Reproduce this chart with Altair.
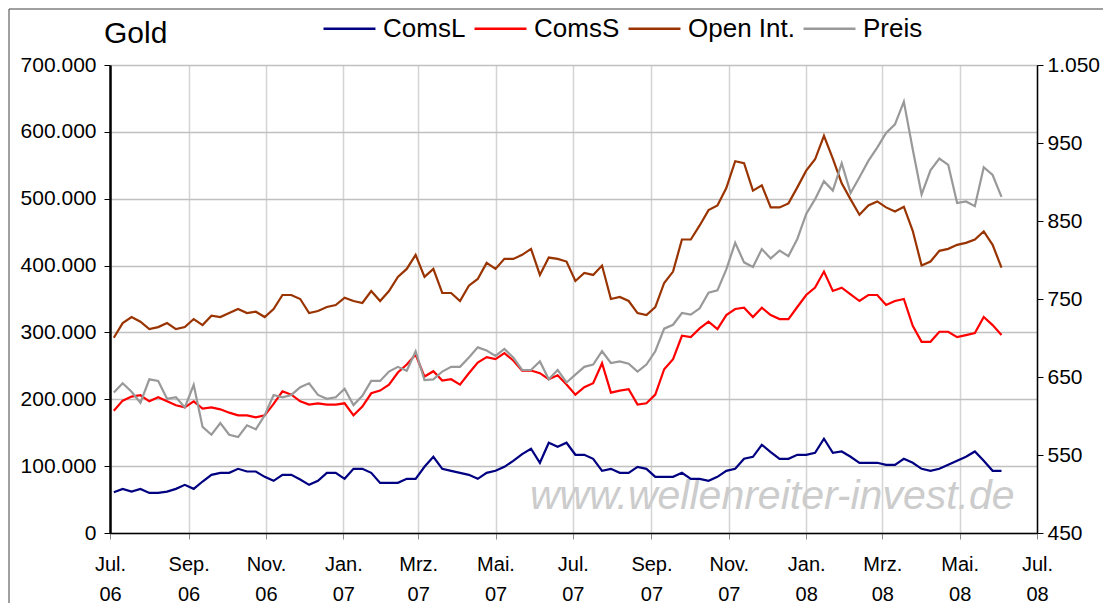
import altair as alt
import pandas as pd

# ---------------- data ----------------
start_date = "2006-07-04"
n_weeks = 101

coms_l = [61, 66, 62, 66, 60, 60, 62, 66, 72, 66, 77, 87, 90, 90, 96, 92, 92, 84, 78, 87,
          87, 80, 72, 78, 90, 90, 81, 96, 96, 90, 75, 75, 75, 81, 81, 99, 114, 96, 93, 90,
          87, 81, 90, 93, 99, 108, 118, 126, 105, 135, 129, 135, 117, 117, 111, 93, 96, 90, 90, 99,
          96, 84, 84, 84, 90, 81, 81, 78, 84, 93, 96, 111, 114, 132, 121, 111, 111, 117, 117, 120,
          141, 120, 122, 114, 105, 105, 105, 102, 102, 111, 105, 96, 93, 96, 102, 108, 114, 122, 108, 93,
          93]
coms_s = [183, 198, 204, 206, 197, 203, 197, 191, 188, 197, 186, 188, 185, 180, 176, 176, 173, 176, 193, 212,
          207, 197, 192, 194, 192, 192, 194, 176, 189, 209, 213, 222, 240, 252, 267, 234, 242, 228, 230, 222,
          239, 255, 263, 260, 269, 258, 243, 243, 239, 230, 236, 222, 207, 218, 224, 254, 210, 213, 215, 192,
          194, 207, 245, 260, 295, 293, 306, 316, 305, 326, 335, 337, 323, 337, 326, 320, 320, 338, 356, 367,
          391, 362, 367, 357, 347, 356, 356, 341, 347, 350, 310, 286, 286, 301, 301, 293, 296, 299, 323, 311,
          296]
open_int = [292, 314, 323, 316, 305, 308, 314, 305, 308, 320, 311, 325, 323, 329, 335, 329, 331, 323, 335, 356,
            356, 350, 329, 332, 338, 341, 352, 347, 344, 362, 347, 362, 383, 395, 416, 383, 395, 359, 359, 347,
            370, 380, 404, 395, 410, 410, 416, 425, 386, 412, 410, 406, 377, 389, 386, 400, 350, 353, 347, 329,
            326, 338, 374, 391, 439, 439, 460, 483, 490, 516, 556, 553, 512, 520, 487, 487, 493, 517, 542, 559,
            594, 560, 523, 499, 476, 490, 496, 487, 481, 488, 452, 400, 406, 422, 425, 431, 434, 439, 451, 431,
            397]
preis = [630, 642, 631, 617, 647, 645, 622, 624, 611, 640, 586, 576, 591, 576, 573, 588, 583, 601, 627, 624,
         627, 637, 642, 627, 622, 624, 635, 614, 626, 645, 645, 657, 663, 658, 683, 646, 647, 657, 663, 663,
         675, 688, 684, 677, 686, 675, 659, 659, 670, 647, 659, 643, 653, 663, 666, 683, 668, 670, 667, 657,
         666, 683, 712, 717, 732, 730, 738, 758, 761, 788, 822, 797, 791, 814, 802, 812, 805, 827, 859, 878,
         901, 889, 924, 886, 906, 927, 944, 963, 974, 1003, 942, 884, 915, 930, 922, 873, 875, 869, 919, 909,
         881]

series_names = ["ComsL", "ComsS", "Open Int.", "Preis"]
series_colors = ["#000080", "#ff0000", "#993300", "#999999"]
month_names = ["Jan.", "Feb.", "Mrz.", "Apr.", "Mai.", "Jun.", "Jul.", "Aug.", "Sep.", "Okt.", "Nov.", "Dez."]
left_ticks = [0, 100000, 200000, 300000, 400000, 500000, 600000, 700000]
right_ticks = [450, 550, 650, 750, 850, 950, 1050]
x_tick_months = [(2006, 7), (2006, 9), (2006, 11), (2007, 1), (2007, 3), (2007, 5), (2007, 7),
                 (2007, 9), (2007, 11), (2008, 1), (2008, 3), (2008, 5), (2008, 7)]
title_text = "Gold"
watermark = "www.wellenreiter-invest.de"

FONT = "Liberation Sans"

dates = pd.date_range(start_date, periods=n_weeks, freq="7D")
left_df = pd.concat([
    pd.DataFrame({"date": dates, "series": "ComsL", "value": [v * 1000 for v in coms_l]}),
    pd.DataFrame({"date": dates, "series": "ComsS", "value": [v * 1000 for v in coms_s]}),
    pd.DataFrame({"date": dates, "series": "Open Int.", "value": [v * 1000 for v in open_int]}),
])
right_df = pd.DataFrame({"date": dates, "series": "Preis", "value": preis})

x_values = [alt.DateTime(year=y, month=m, date=1) for (y, m) in x_tick_months]
month_arr = "[" + ",".join(f"'{m}'" for m in month_names) + "]"
x_label_expr = f"[{month_arr}[month(datum.value)], timeFormat(datum.value, '%y')]"

x_enc = alt.X(
    "date:T",
    title=None,
    scale=alt.Scale(domain=[x_values[0], x_values[-1]]),
    axis=alt.Axis(values=x_values, labelExpr=x_label_expr, grid=True, gridColor="#d4d4d4",
                  gridWidth=1.5, tickSize=6, tickColor="#888888", domainColor="black",
                  domainWidth=1.5, labelFont=FONT, labelFontSize=20, labelColor="black",
                  labelPadding=15, labelLineHeight=30, labelBaseline="top", labelAngle=0,
                  labelOverlap=False, labelFlush=False),
)

color_enc = alt.Color(
    "series:N",
    scale=alt.Scale(domain=series_names, range=series_colors),
    legend=alt.Legend(orient="none", legendX=212, legendY=-64, direction="horizontal", title=None,
                      symbolType="stroke", symbolSize=2700, symbolStrokeWidth=2.5,
                      labelFont=FONT, labelFontSize=26, labelColor="black", labelOffset=6,
                      columnPadding=3, padding=0),
)

left_lines = alt.Chart(left_df).mark_line(strokeWidth=2.2).encode(
    x=x_enc,
    y=alt.Y("value:Q", title=None,
            scale=alt.Scale(domain=[0, 700000], nice=False, zero=False),
            axis=alt.Axis(orient="left", values=left_ticks,
                          labelExpr="datum.value == 0 ? '0' : format(datum.value / 1000, 'd') + '.000'",
                          grid=True, gridColor="#c0c0c0", gridWidth=1.5, tickSize=6,
                          tickColor="black", domainColor="black", domainWidth=2.5,
                          labelFont=FONT, labelFontSize=21, labelColor="black", labelPadding=8)),
    color=color_enc,
    detail="series:N",
)

right_line = alt.Chart(right_df).mark_line(strokeWidth=2.2).encode(
    x=x_enc,
    y=alt.Y("value:Q", title=None,
            scale=alt.Scale(domain=[450, 1050], nice=False, zero=False),
            axis=alt.Axis(orient="right", values=right_ticks,
                          labelExpr="datum.value >= 1000 ? '1.' + format(datum.value - 1000, '03d') : format(datum.value, 'd')",
                          grid=False, tickSize=6, tickColor="black", domainColor="black",
                          domainWidth=1.5, labelFont=FONT, labelFontSize=21, labelColor="black",
                          labelPadding=4)),
    color=color_enc,
)

wm = alt.Chart(pd.DataFrame({"t": [watermark]})).mark_text(
    font=FONT, fontStyle="italic", fontSize=41, color="#cccccc", align="left", baseline="alphabetic"
).encode(text="t:N", x=alt.value(420), y=alt.value(444))

title = alt.Chart(pd.DataFrame({"t": [title_text]})).mark_text(
    font=FONT, fontSize=30, color="black", align="left", baseline="alphabetic"
).encode(text="t:N", x=alt.value(-6), y=alt.value(-22))

frame = alt.Chart(pd.DataFrame({"t": [0]})).mark_rect(
    fillOpacity=0, stroke="#404040", strokeWidth=1
).encode(x=alt.value(-101), x2=alt.value(994), y=alt.value(-56), y2=alt.value(539))

chart = alt.layer(frame, wm, title, left_lines, right_line).resolve_scale(y="independent").properties(
    width=927, height=468,
    padding={"left": 102, "top": 57, "right": 66, "bottom": 70},
    autosize=alt.AutoSizeParams(type="none"),
).configure_view(stroke="black", strokeWidth=1)

chart.save("out.html", embed_options={"renderer": "svg", "actions": False})
